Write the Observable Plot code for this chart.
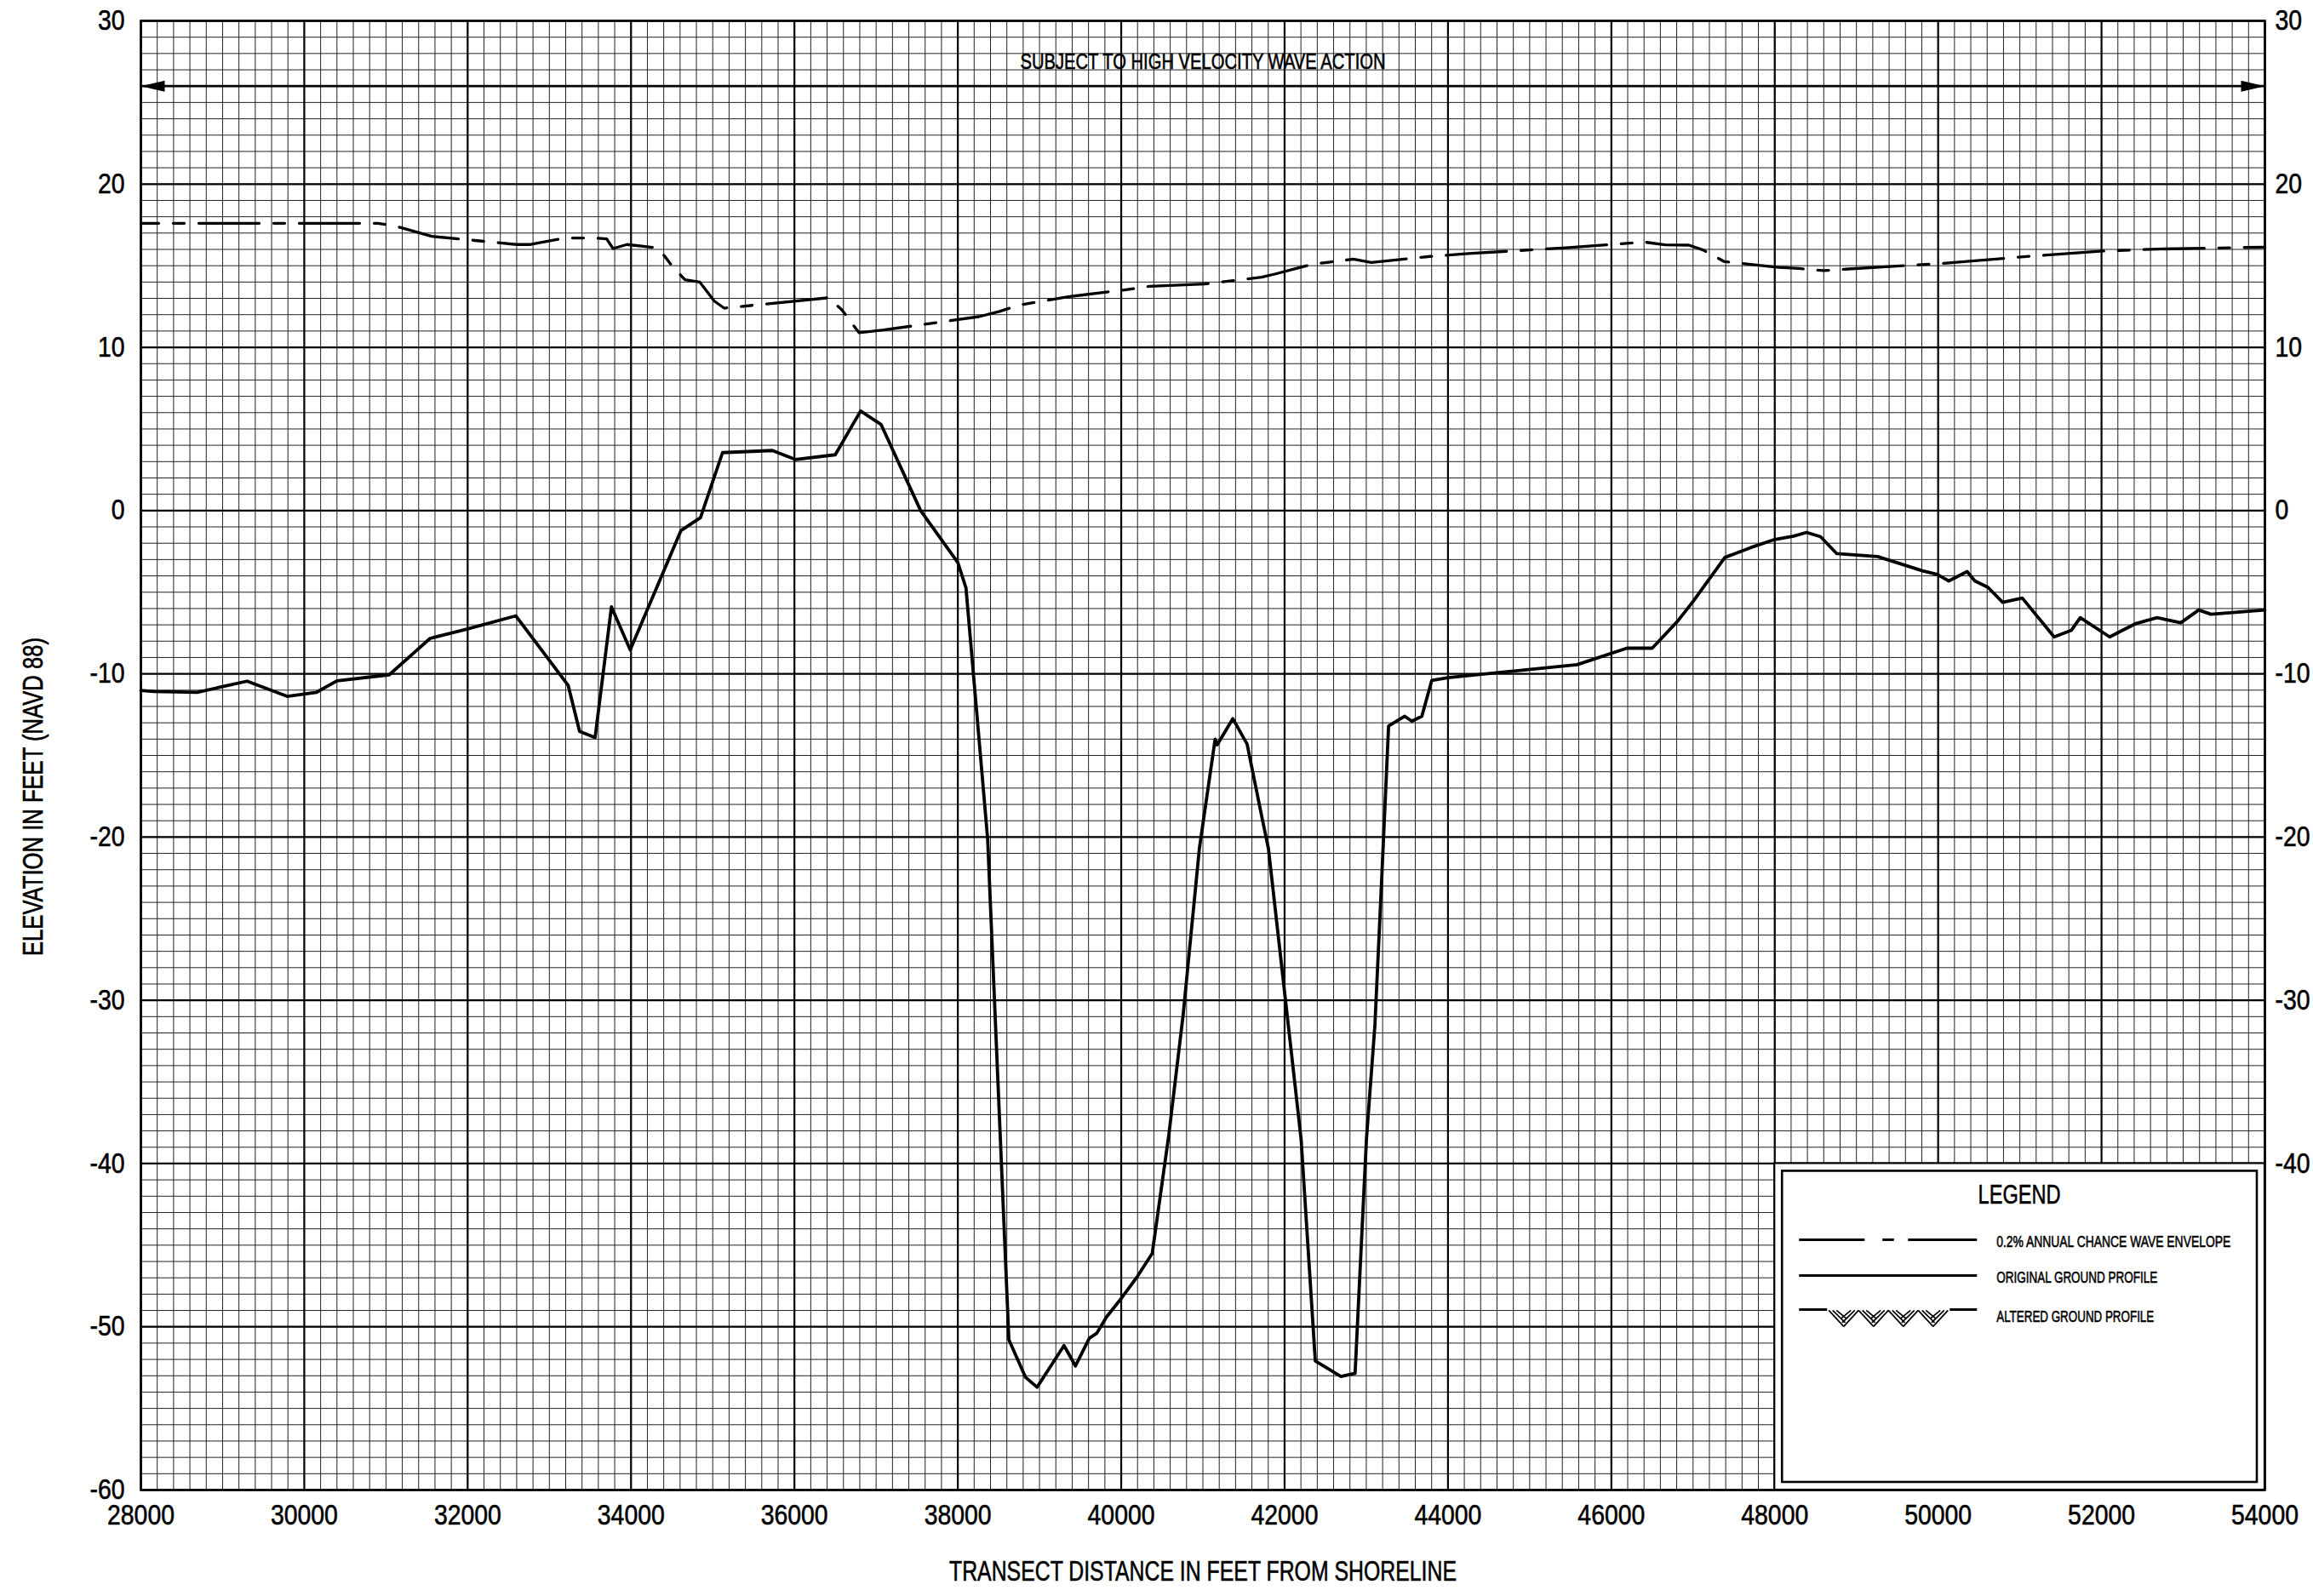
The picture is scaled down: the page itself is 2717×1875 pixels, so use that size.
<!DOCTYPE html>
<html lang="en">
<head>
<meta charset="utf-8">
<title>Transect profile</title>
<script src="https://cdn.jsdelivr.net/npm/d3@7"></script>
<script src="https://cdn.jsdelivr.net/npm/@observablehq/plot@0.6"></script>
<style>
  html, body { margin: 0; padding: 0; background: #fff; overflow: hidden; }
  #chart svg { display: block; }
</style>
</head>
<body>
<div id="chart"></div>
<script>
// Original ground profile: distance from shoreline (ft) and elevation (ft, NAVD 88)
const groundDistance = [
  28000, 28160, 28690, 29300, 29790, 30150, 30400, 31040, 31540, 31990,
  32590, 33230, 33370, 33560, 33760, 33990, 34610, 34850, 35120, 35730,
  36010, 36500, 36810, 37060, 37545, 38000, 38100, 38365, 38625, 38830,
  38970, 39300, 39440, 39610, 39700, 39820, 40010, 40200, 40380, 40584,
  40758, 40957, 41150, 41175, 41367, 41541, 41715, 41802, 42000, 42202,
  42376, 42690, 42863, 43002, 43106, 43193, 43273, 43471, 43558, 43680,
  43802, 44000, 45580, 46190, 46500, 46810, 47000, 47390, 47710, 48000,
  48230, 48390, 48560, 48760, 49260, 49810, 49990, 50130, 50355, 50450,
  50610, 50790, 51030, 51420, 51630, 51740, 52100, 52420, 52680, 52970,
  53190, 53340, 54000
];
const groundElevation = [
  -11.02, -11.08, -11.13, -10.45, -11.38, -11.13, -10.43, -10.06, -7.83, -7.26,
  -6.45, -10.7, -13.53, -13.9, -5.9, -8.53, -1.23, -0.43, 3.55, 3.68,
  3.13, 3.42, 6.1, 5.28, 0.0, -3.18, -4.74, -20.1, -50.8, -53.1,
  -53.7, -51.15, -52.4, -50.7, -50.4, -49.4, -48.2, -46.9, -45.5, -38.2,
  -30.9, -20.7, -14.0, -14.35, -12.75, -14.3, -18.6, -20.7, -29.5, -38.5,
  -52.1, -53.05, -52.85, -38.5, -31.5, -22.1, -13.2, -12.6, -12.9, -12.6,
  -10.4, -10.23, -9.44, -8.43, -8.43, -6.78, -5.57, -2.87, -2.26, -1.77,
  -1.57, -1.34, -1.6, -2.64, -2.82, -3.69, -3.91, -4.31, -3.74, -4.31,
  -4.7, -5.62, -5.36, -7.74, -7.34, -6.56, -7.74, -6.92, -6.56, -6.87,
  -6.09, -6.35, -6.09
];

// 0.2% annual chance wave envelope
const envelopeDistance = [
  28000, 30900, 31100, 31560, 31980, 32600, 32770, 32980, 33200, 33530,
  33700, 33780, 33950, 34130, 34300, 34410, 34490, 34660, 34840, 35020,
  35140, 36420, 36580, 36790, 37090, 38260, 38510, 38760, 39350, 40020,
  40350, 41020, 41720, 41890, 42350, 42840, 43060, 43780, 44250, 45440,
  45940, 46400, 46660, 46950, 47120, 47380, 47800, 48050, 48300, 48600,
  48900, 49320, 50160, 51170, 52020, 52690, 54000
];
const envelopeElevation = [
  17.6, 17.6, 17.45, 16.8, 16.6, 16.3, 16.3, 16.5, 16.7, 16.7,
  16.65, 16.05, 16.3, 16.2, 16.1, 15.6, 15.06, 14.14, 14.0, 12.83,
  12.4, 13.04, 12.3, 10.9, 11.06, 11.88, 12.2, 12.6, 13.1, 13.5,
  13.74, 13.88, 14.3, 14.5, 15.1, 15.4, 15.2, 15.57, 15.74, 16.1,
  16.28, 16.45, 16.28, 16.26, 15.97, 15.26, 15.03, 14.9, 14.83, 14.7,
  14.8, 14.92, 15.18, 15.6, 15.9, 16.02, 16.14
];

// Tick values
const xTicks = [28000, 30000, 32000, 34000, 36000, 38000, 40000, 42000, 44000, 46000, 48000, 50000, 52000, 54000];
const yTicksLeft = [30, 20, 10, 0, -10, -20, -30, -40, -50, -60];
const yTicksRight = [30, 20, 10, 0, -10, -20, -30, -40];

// Zone annotation and legend text
const waveZoneElevation = [26];
const waveZoneLabel = ["SUBJECT TO HIGH VELOCITY WAVE ACTION"];
const legendTitle = "LEGEND";
const legendLabels = ["0.2% ANNUAL CHANCE WAVE ENVELOPE", "ORIGINAL GROUND PROFILE", "ALTERED GROUND PROFILE"];
const xTitle = "TRANSECT DISTANCE IN FEET FROM SHORELINE";
const yTitle = "ELEVATION IN FEET (NAVD 88)";

const FONT = "'Liberation Sans', Arial, sans-serif";
const CONDENSE = 0.86; // narrows the lettering to a condensed drafting style
const fmt = d => String(d);

const ground = groundDistance.map((x, i) => ({x, y: groundElevation[i]}));
const envelope = envelopeDistance.map((x, i) => ({x, y: envelopeElevation[i]}));

const xDomain = [28000, 54000];
const yDomain = [-60, 30];
const minorX = d3.range(xDomain[0], xDomain[1] + 1, 200);
const majorX = d3.range(xDomain[0], xDomain[1] + 1, 2000);
const minorY = d3.range(yDomain[0], yDomain[1] + 1, 1);
const majorY = d3.range(yDomain[0], yDomain[1] + 1, 10);

// The legend panel covers the lower-right block of the grid
const legendBox = {x1: 48000, x2: 54000, y1: -60, y2: -40};

// Filled arrowheads at both ends of the wave-action line
const arrowLeft = {draw(ctx) { ctx.moveTo(0, 0); ctx.lineTo(28, -6.5); ctx.lineTo(28, 6.5); ctx.closePath(); }};
const arrowRight = {draw(ctx) { ctx.moveTo(0, 0); ctx.lineTo(-28, -6.5); ctx.lineTo(-28, 6.5); ctx.closePath(); }};
const arrowEnds = [
  {x: xDomain[0], y: waveZoneElevation[0]},
  {x: xDomain[1], y: waveZoneElevation[0]}
];

const plot = Plot.plot({
  width: 2717,
  height: 1875,
  marginLeft: 165,
  marginRight: 57,
  marginTop: 24,
  marginBottom: 125,
  x: {domain: xDomain},
  y: {domain: yDomain},
  style: {fontFamily: FONT, fontSize: "33px", color: "#000", background: "#fff", overflow: "visible"},
  marks: [
    // graph-paper grid
    Plot.ruleX(minorX, {stroke: "#222", strokeWidth: 1}),
    Plot.ruleY(minorY, {stroke: "#222", strokeWidth: 1}),
    Plot.ruleX(majorX, {stroke: "#000", strokeWidth: 2.2}),
    Plot.ruleY(majorY, {stroke: "#000", strokeWidth: 2.2}),

    // legend panel (white block with a double border)
    Plot.rect([legendBox], {x1: "x1", x2: "x2", y1: "y1", y2: "y2", fill: "#fff", stroke: "#000", strokeWidth: 2.2}),
    Plot.rect([legendBox], {x1: "x1", x2: "x2", y1: "y1", y2: "y2", inset: 9, fill: "none", stroke: "#000", strokeWidth: 2.6}),

    // wave-action zone line with arrowheads and label
    Plot.ruleY(waveZoneElevation, {stroke: "#000", strokeWidth: 2.8}),
    Plot.dot(arrowEnds.slice(0, 1), {x: "x", y: "y", symbol: arrowLeft, fill: "#000", stroke: "none"}),
    Plot.dot(arrowEnds.slice(1), {x: "x", y: "y", symbol: arrowRight, fill: "#000", stroke: "none"}),
    Plot.text(waveZoneLabel, {x: (xDomain[0] + xDomain[1]) / 2, y: waveZoneElevation[0], dy: -29, text: d => d, fontSize: 26, fill: "#000"}),

    // profiles
    Plot.line(envelope, {x: "x", y: "y", stroke: "#000", strokeWidth: 3.3, strokeDasharray: "71,17,13,17", strokeDashoffset: 50}),
    Plot.line(ground, {x: "x", y: "y", stroke: "#000", strokeWidth: 3.8}),

    Plot.frame({stroke: "#000", strokeWidth: 2.6}),

    // axes
    Plot.axisY(yTicksLeft, {anchor: "left", tickSize: 0, tickPadding: 19, tickFormat: fmt, label: null, fontSize: 33}),
    Plot.axisY(yTicksRight, {anchor: "right", tickSize: 0, tickPadding: 12, tickFormat: fmt, label: null, fontSize: 33}),
    Plot.axisX(xTicks, {anchor: "bottom", tickSize: 0, tickPadding: 17, tickFormat: fmt, label: null, fontSize: 33}),

    // horizontal axis title
    Plot.text([xTitle], {frameAnchor: "bottom", dy: 106, text: d => d, fontSize: 33, fill: "#000"})
  ]
});

document.getElementById("chart").append(plot);

const svg = d3.select(plot);

// vertical axis title, centred on the page height
const yTitleLength = 374;
svg.append("text")
  .attr("transform", `translate(50,${936 + yTitleLength / 2}) rotate(-90)`)
  .attr("text-anchor", "start")
  .attr("fill", "#000")
  .attr("font-family", FONT)
  .attr("font-size", 33)
  .attr("textLength", yTitleLength)
  .attr("lengthAdjust", "spacingAndGlyphs")
  .text(yTitle);

// Legend content, placed relative to the legend panel's top-left corner
const sx = plot.scale("x");
const sy = plot.scale("y");
const lx = sx.apply(legendBox.x1);
const ly = sy.apply(legendBox.y2);
const panelWidth = sx.apply(legendBox.x2) - lx;
const lg = svg.append("g")
  .attr("transform", `translate(${lx},${ly})`)
  .attr("fill", "none")
  .attr("stroke", "#000")
  .attr("font-family", FONT);

lg.append("text")
  .attr("x", panelWidth / 2 - 97 / 2).attr("y", 48)
  .attr("text-anchor", "start")
  .attr("fill", "#000").attr("stroke", "none")
  .attr("font-size", 32)
  .attr("textLength", 97).attr("lengthAdjust", "spacingAndGlyphs")
  .text(legendTitle);

const rowY = [90, 132, 172];
const rowBaseline = [98.5, 140.5, 186.5];
const rowTextLength = [275, 189, 185];

// dash-dot swatch
[[29, 106], [127, 140.5], [157, 238]].forEach(([a, b]) => {
  lg.append("line").attr("x1", a).attr("x2", b).attr("y1", rowY[0]).attr("y2", rowY[0]).attr("stroke-width", 3);
});
// solid swatch
lg.append("line").attr("x1", 29).attr("x2", 238).attr("y1", rowY[1]).attr("y2", rowY[1]).attr("stroke-width", 3);
// altered ground swatch: solid ends with a hatched zigzag between
lg.append("line").attr("x1", 29).attr("x2", 62).attr("y1", rowY[2]).attr("y2", rowY[2]).attr("stroke-width", 3);
lg.append("line").attr("x1", 206).attr("x2", 238).attr("y1", rowY[2]).attr("y2", rowY[2]).attr("stroke-width", 3);
const hatch = lg.append("g").attr("stroke-width", 1.7);
for (let i = 0; i < 4; i++) {
  const x0 = 64 + i * 35;
  const top = rowY[2] + 1;
  const bot = rowY[2] + 20;
  for (const o of [0, 4.5, 9]) {
    hatch.append("line")
      .attr("x1", x0 + o).attr("y1", top)
      .attr("x2", x0 + 17.5 + o * 0.4).attr("y2", bot - o);
    hatch.append("line")
      .attr("x1", x0 + 35 - o).attr("y1", top)
      .attr("x2", x0 + 17.5 - o * 0.4).attr("y2", bot - o);
  }
}

legendLabels.forEach((t, i) => {
  lg.append("text")
    .attr("x", 261).attr("y", rowBaseline[i])
    .attr("text-anchor", "start")
    .attr("fill", "#000").attr("stroke", "none")
    .attr("font-size", 19)
    .attr("textLength", rowTextLength[i]).attr("lengthAdjust", "spacingAndGlyphs")
    .text(t);
});

// Fixed lengths for the long labels; every other label is narrowed uniformly
const fitLengths = new Map([
  [xTitle, 596],
  [waveZoneLabel[0], 429]
]);
svg.selectAll("text").each(function() {
  if (!this.hasAttribute("textLength")) {
    const fixed = fitLengths.get(this.textContent);
    const len = fixed ?? this.getComputedTextLength() * CONDENSE;
    this.setAttribute("textLength", len);
    this.setAttribute("lengthAdjust", "spacingAndGlyphs");
  }
  // slightly heavier strokes, as in drafting lettering
  this.setAttribute("stroke", "#000");
  this.setAttribute("stroke-width", 0.6);
  this.setAttribute("paint-order", "stroke");
});
</script>
</body>
</html>
